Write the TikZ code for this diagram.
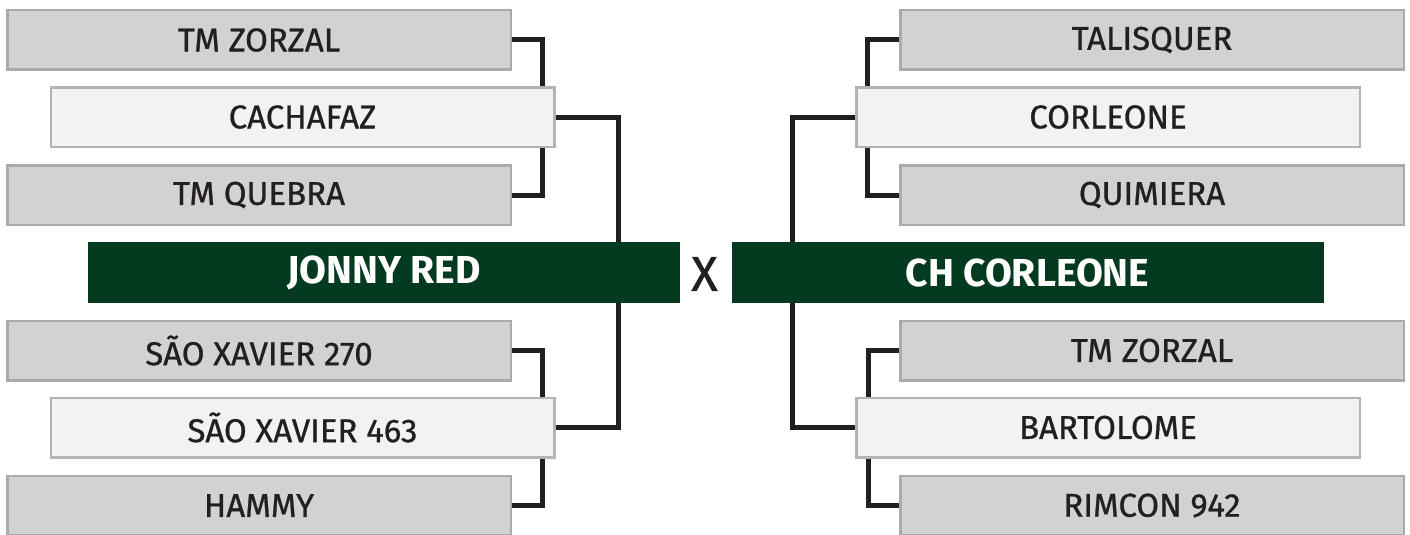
\documentclass[tikz,border=0pt]{standalone}
\usepackage{fontspec}
\setmainfont{Fira Sans}
\newfontfamily\seedfont[FakeBold=0.8]{Fira Sans}
\usepackage{tikz}
\usetikzlibrary{positioning}
\definecolor{colorSeed}{HTML}{D1D2D4}
\definecolor{colorSeedLine}{HTML}{A9AAAC}
\definecolor{colorWin}{HTML}{F1F2F3}
\definecolor{colorWinLine}{HTML}{B2B3B5}
\definecolor{colorFinal}{HTML}{033A20}
\definecolor{colorInk}{HTML}{231F20}
\tikzset{
  seedbox/.style={draw=colorSeedLine, fill=colorSeed, line width=2.5pt, minimum width=503.5pt, minimum height=59.5pt, inner sep=0pt, text=colorInk, font=\seedfont\fontsize{33}{36}\selectfont},
  winbox/.style={seedbox, draw=colorWinLine, fill=colorWin},
  finalbox/.style={fill=colorFinal, minimum width=592pt, minimum height=61pt, inner sep=0pt, text=white, font=\fontsize{39}{42}\selectfont\bfseries},
  bracket/.style={draw=colorInk, line width=5pt}
}

\begin{document}
\begin{tikzpicture}[x=1pt, y=-1pt]
\path[use as bounding box, clip] (0,0) rectangle (1410,535);
% left half
\node[seedbox] (l1) at (259,40) {TM ZORZAL};
\node[winbox] (l2) at (302.5,117) {CACHAFAZ};
\node[seedbox] (l3) at (259,195) {TM QUEBRA};
\node[finalbox] (lf) at (384,272.5) {JONNY RED};
\node[seedbox] (l5) at (259,350.5) {SÃO XAVIER 270};
\node[winbox] (l6) at (302.5,427.5) {SÃO XAVIER 463};
\node[seedbox] (l7) at (259,505.5) {HAMMY};
% right half
\node[seedbox] (r1) at (1152,40) {TALISQUER};
\node[winbox] (r2) at (1108,117) {CORLEONE};
\node[seedbox] (r3) at (1152,195) {QUIMIERA};
\node[finalbox] (rf) at (1027.5,272.5) {CH CORLEONE};
\node[seedbox] (r5) at (1152,350.5) {TM ZORZAL};
\node[winbox] (r6) at (1108,427.5) {BARTOLOME};
\node[seedbox] (r7) at (1152,505.5) {RIMCON 942};
\node[text=colorInk, font=\seedfont\fontsize{49}{52}\selectfont] (vs) at (704.5,274) {X};
% brackets
\draw[bracket] (l1.east) -| ([xshift=-13.5pt]l2.north east);
\draw[bracket] ([xshift=-13.5pt]l2.south east) |- (l3.east);
\draw[bracket] (l5.east) -| ([xshift=-13.5pt]l6.north east);
\draw[bracket] ([xshift=-13.5pt]l6.south east) |- (l7.east);
\draw[bracket] (l2.east) -| ([xshift=-62pt]lf.north east);
\draw[bracket] ([xshift=-62pt]lf.south east) |- (l6.east);
\draw[bracket] (r1.west) -| ([xshift=12pt]r2.north west);
\draw[bracket] ([xshift=12pt]r2.south west) |- (r3.west);
\draw[bracket] (r5.west) -| ([xshift=13.5pt]r6.north west);
\draw[bracket] ([xshift=13.5pt]r6.south west) |- (r7.west);
\draw[bracket] (r2.west) -| ([xshift=61pt]rf.north west);
\draw[bracket] ([xshift=61pt]rf.south west) |- (r6.west);
\end{tikzpicture}
\end{document}
